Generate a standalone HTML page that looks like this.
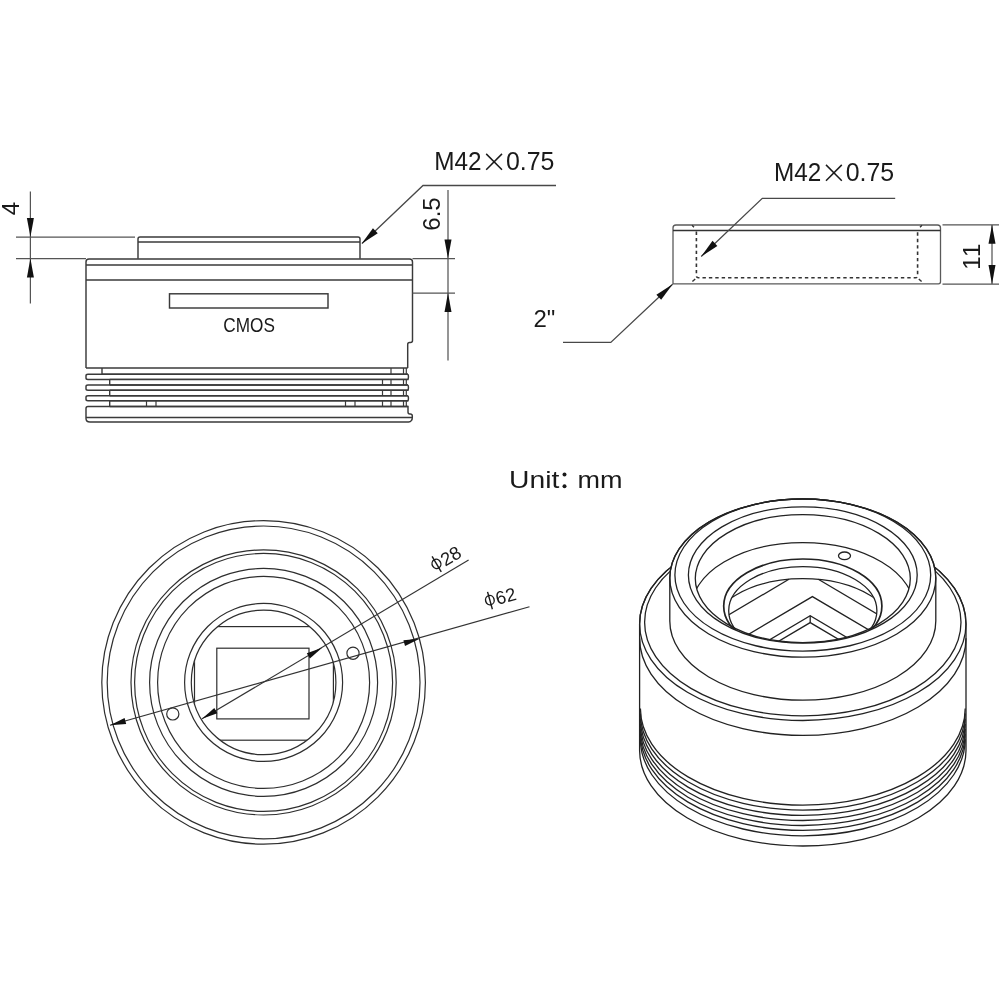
<!DOCTYPE html>
<html><head><meta charset="utf-8"><title>drawing</title>
<style>
html,body{margin:0;padding:0;background:#fff;}
body{width:1000px;height:1000px;overflow:hidden;}
svg{display:block;filter:blur(0.35px);}
text{font-family:"Liberation Sans",sans-serif;fill:#1a1a1a;}
</style></head><body>
<svg width="1000" height="1000" viewBox="0 0 1000 1000">
<rect x="0" y="0" width="1000" height="1000" fill="#ffffff"/>
<path d="M138,258.8 V239 Q138,237 140,237 H358 Q360,237 360,239 V258.8" stroke="#3a3a3a" stroke-width="1.45" fill="none" />
<line x1="138" y1="242" x2="360" y2="242" stroke="#3a3a3a" stroke-width="1.45" />
<path d="M86,368 V262 Q86,259 89,259 H409.5 Q412.5,259 412.5,262 V340.5 Q412.5,342.5 410.5,342.5 H409.5 Q407.7,342.5 407.7,344.5 V368" stroke="#3a3a3a" stroke-width="1.45" fill="none" />
<line x1="86" y1="265" x2="412.5" y2="265" stroke="#3a3a3a" stroke-width="1.45" />
<line x1="86" y1="280" x2="412.5" y2="280" stroke="#3a3a3a" stroke-width="1.45" />
<rect x="169.5" y="293.8" width="158.5" height="14.2" rx="0" stroke="#3a3a3a" stroke-width="1.45" fill="none"/>
<text x="223.3" y="332.2" font-size="19.5" text-anchor="start" textLength="51.6" lengthAdjust="spacingAndGlyphs" >CMOS</text>
<line x1="86" y1="368" x2="407.7" y2="368" stroke="#3a3a3a" stroke-width="1.5" />
<path d="M408,374.3 H88 Q86,374.3 86,375.8 V377.9 Q86,379.4 88,379.4 H408 Q408.9,376.85 408,374.3" stroke="#3a3a3a" stroke-width="1.45" fill="none" />
<path d="M408,385 H88 Q86,385 86,386.5 V388.7 Q86,390.2 88,390.2 H408 Q408.9,387.6 408,385" stroke="#3a3a3a" stroke-width="1.45" fill="none" />
<path d="M408,395.7 H88 Q86,395.7 86,397.2 V399.3 Q86,400.8 88,400.8 H408 Q408.9,398.25 408,395.7" stroke="#3a3a3a" stroke-width="1.45" fill="none" />
<line x1="102" y1="368" x2="102" y2="374.3" stroke="#3a3a3a" stroke-width="1.4" />
<line x1="109.7" y1="379.4" x2="109.7" y2="385" stroke="#3a3a3a" stroke-width="1.4" />
<line x1="109.7" y1="390.2" x2="109.7" y2="395.7" stroke="#3a3a3a" stroke-width="1.4" />
<line x1="109.7" y1="400.8" x2="109.7" y2="406.5" stroke="#3a3a3a" stroke-width="1.4" />
<line x1="109.7" y1="379.4" x2="408" y2="379.4" stroke="#3a3a3a" stroke-width="1.4" />
<line x1="109.7" y1="385" x2="408" y2="385" stroke="#3a3a3a" stroke-width="1.4" />
<line x1="109.7" y1="390.2" x2="408" y2="390.2" stroke="#3a3a3a" stroke-width="1.4" />
<line x1="109.7" y1="395.7" x2="408" y2="395.7" stroke="#3a3a3a" stroke-width="1.4" />
<line x1="109.7" y1="400.8" x2="408" y2="400.8" stroke="#3a3a3a" stroke-width="1.4" />
<line x1="109.7" y1="406.5" x2="408" y2="406.5" stroke="#3a3a3a" stroke-width="1.4" />
<line x1="102" y1="374.3" x2="408" y2="374.3" stroke="#3a3a3a" stroke-width="1.4" />
<line x1="391" y1="368" x2="391" y2="374.3" stroke="#3a3a3a" stroke-width="1.2" />
<line x1="403.5" y1="368" x2="403.5" y2="374.3" stroke="#3a3a3a" stroke-width="1.2" />
<line x1="406.3" y1="368" x2="406.3" y2="374.3" stroke="#3a3a3a" stroke-width="1.2" />
<line x1="382.5" y1="379.4" x2="382.5" y2="385" stroke="#3a3a3a" stroke-width="1.2" />
<line x1="391" y1="379.4" x2="391" y2="385" stroke="#3a3a3a" stroke-width="1.2" />
<line x1="403.5" y1="379.4" x2="403.5" y2="385" stroke="#3a3a3a" stroke-width="1.2" />
<line x1="406.3" y1="379.4" x2="406.3" y2="385" stroke="#3a3a3a" stroke-width="1.2" />
<line x1="382.5" y1="390.2" x2="382.5" y2="395.7" stroke="#3a3a3a" stroke-width="1.2" />
<line x1="391" y1="390.2" x2="391" y2="395.7" stroke="#3a3a3a" stroke-width="1.2" />
<line x1="403.5" y1="390.2" x2="403.5" y2="395.7" stroke="#3a3a3a" stroke-width="1.2" />
<line x1="406.3" y1="390.2" x2="406.3" y2="395.7" stroke="#3a3a3a" stroke-width="1.2" />
<line x1="345.5" y1="400.8" x2="345.5" y2="406.5" stroke="#3a3a3a" stroke-width="1.2" />
<line x1="355" y1="400.8" x2="355" y2="406.5" stroke="#3a3a3a" stroke-width="1.2" />
<line x1="382.5" y1="400.8" x2="382.5" y2="406.5" stroke="#3a3a3a" stroke-width="1.2" />
<line x1="391" y1="400.8" x2="391" y2="406.5" stroke="#3a3a3a" stroke-width="1.2" />
<line x1="403.5" y1="400.8" x2="403.5" y2="406.5" stroke="#3a3a3a" stroke-width="1.2" />
<line x1="406.3" y1="400.8" x2="406.3" y2="406.5" stroke="#3a3a3a" stroke-width="1.2" />
<line x1="146.5" y1="400.8" x2="146.5" y2="406.5" stroke="#3a3a3a" stroke-width="1.2" />
<line x1="156" y1="400.8" x2="156" y2="406.5" stroke="#3a3a3a" stroke-width="1.2" />
<path d="M408,406.5 H88 Q86,406.5 86,408.5 V418.5 Q86,422 90,422 H408.5 Q412.3,421.5 412.3,417.5 V416 Q412.3,414 410.3,414 H409.8 Q408,414 408,412 Z" stroke="#3a3a3a" stroke-width="1.45" fill="none" />
<line x1="86" y1="417.5" x2="412.3" y2="417.5" stroke="#3a3a3a" stroke-width="1.45" />
<line x1="30.4" y1="191.5" x2="30.4" y2="303.5" stroke="#555" stroke-width="1.25" />
<line x1="16" y1="237" x2="135" y2="237" stroke="#555" stroke-width="1.25" />
<line x1="16" y1="258.5" x2="86" y2="258.5" stroke="#555" stroke-width="1.25" />
<polygon points="30.40,237.00 26.90,218.00 33.90,218.00" fill="#111"/>
<polygon points="30.40,258.50 33.90,277.50 26.90,277.50" fill="#111"/>
<text x="19" y="208.5" font-size="24" text-anchor="middle" transform="rotate(-90 19 208.5)" >4</text>
<path d="M362,243.5 L423,185.5 H556" stroke="#484848" stroke-width="1.3" fill="none" />
<polygon points="361.60,243.80 372.95,228.16 377.77,233.23" fill="#111"/>
<text x="434.3" y="170.4" font-size="25" text-anchor="start" textLength="47.3" lengthAdjust="spacingAndGlyphs" >M42</text>
<line x1="486.20000000000005" y1="153.9" x2="502.0" y2="169.70000000000002" stroke="#1a1a1a" stroke-width="1.5" />
<line x1="486.20000000000005" y1="169.70000000000002" x2="502.0" y2="153.9" stroke="#1a1a1a" stroke-width="1.5" />
<text x="505.90000000000003" y="170.4" font-size="25" text-anchor="start" textLength="48.5" lengthAdjust="spacingAndGlyphs" >0.75</text>
<line x1="448" y1="190" x2="448" y2="360.5" stroke="#555" stroke-width="1.25" />
<line x1="412.5" y1="258.6" x2="455" y2="258.6" stroke="#555" stroke-width="1.25" />
<line x1="412.5" y1="293" x2="455" y2="293" stroke="#555" stroke-width="1.25" />
<polygon points="448.00,258.60 444.50,239.60 451.50,239.60" fill="#111"/>
<polygon points="448.00,293.00 451.50,312.00 444.50,312.00" fill="#111"/>
<text x="439.5" y="214" font-size="24" text-anchor="middle" transform="rotate(-90 439.5 214)" >6.5</text>
<path d="M673,283.8 V228 Q673,225 676,225 H937.5 Q940.5,225 940.5,228 V281.8 Q940.5,283.8 938.5,283.8 Z" stroke="#5a5a5a" stroke-width="1.3" fill="none" />
<line x1="673" y1="230.6" x2="940.5" y2="230.6" stroke="#333" stroke-width="1.5" />
<path d="M696.4,231.5 V275.8 Q696.4,277.8 698.4,277.8 H915.6 Q917.6,277.8 917.6,275.8 V231.5" stroke="#333" stroke-width="1.6" fill="none" stroke-dasharray="3.4 3"/>
<path d="M695.2,279 L692.4,281.6 M918.8,279 L921.6,281.6 M692,225.3 L694,227.3 M922,225.3 L920,227.3" stroke="#333" stroke-width="1.4" fill="none" />
<path d="M701.2,256.5 L762.3,198.4 H895.2" stroke="#484848" stroke-width="1.3" fill="none" />
<polygon points="701.20,256.50 712.55,240.86 717.37,245.93" fill="#111"/>
<text x="774.1" y="181.4" font-size="25" text-anchor="start" textLength="47.3" lengthAdjust="spacingAndGlyphs" >M42</text>
<line x1="826.0" y1="164.9" x2="841.8" y2="180.70000000000002" stroke="#1a1a1a" stroke-width="1.5" />
<line x1="826.0" y1="180.70000000000002" x2="841.8" y2="164.9" stroke="#1a1a1a" stroke-width="1.5" />
<text x="845.6999999999999" y="181.4" font-size="25" text-anchor="start" textLength="48.5" lengthAdjust="spacingAndGlyphs" >0.75</text>
<path d="M672.6,284.2 L610.8,342.4 H563" stroke="#484848" stroke-width="1.3" fill="none" />
<polygon points="672.60,284.20 661.17,299.78 656.37,294.68" fill="#111"/>
<text x="533.5" y="327" font-size="24" text-anchor="start" >2"</text>
<line x1="942.5" y1="224.8" x2="999" y2="224.8" stroke="#555" stroke-width="1.25" />
<line x1="942.5" y1="284" x2="999" y2="284" stroke="#555" stroke-width="1.25" />
<line x1="992" y1="225" x2="992" y2="284" stroke="#555" stroke-width="1.25" />
<polygon points="992.00,224.80 995.50,243.80 988.50,243.80" fill="#111"/>
<polygon points="992.00,284.00 988.50,265.00 995.50,265.00" fill="#111"/>
<text x="980" y="256.2" font-size="24" text-anchor="middle" transform="rotate(-90 980 256.2)" letter-spacing="1">11</text>
<text x="509.0" y="488.2" font-size="24.5" text-anchor="start" textLength="50.3" lengthAdjust="spacingAndGlyphs" >Unit</text>
<circle cx="564.5" cy="474.6" r="2" fill="#1a1a1a"/><circle cx="564.5" cy="486.3" r="2" fill="#1a1a1a"/>
<text x="577.6" y="488.2" font-size="24.5" text-anchor="start" textLength="45" lengthAdjust="spacingAndGlyphs" >mm</text>
<circle cx="263.6" cy="682.4" r="161.8" stroke="#2e2e2e" stroke-width="1.2" fill="none"/>
<circle cx="263.6" cy="682.4" r="156.4" stroke="#2e2e2e" stroke-width="1.2" fill="none"/>
<circle cx="263.6" cy="682.4" r="132.6" stroke="#2e2e2e" stroke-width="1.2" fill="none"/>
<circle cx="263.6" cy="682.4" r="129" stroke="#2e2e2e" stroke-width="1.2" fill="none"/>
<circle cx="263.6" cy="682.4" r="114" stroke="#2e2e2e" stroke-width="1.2" fill="none"/>
<circle cx="263.6" cy="682.4" r="106" stroke="#2e2e2e" stroke-width="1.2" fill="none"/>
<circle cx="263.6" cy="682.4" r="79" stroke="#2e2e2e" stroke-width="1.2" fill="none"/>
<circle cx="263.6" cy="682.4" r="72.3" stroke="#2e2e2e" stroke-width="1.2" fill="none"/>
<clipPath id="cin"><circle cx="263.6" cy="682.4" r="72.3"/></clipPath>
<g clip-path="url(#cin)"><rect x="194.5" y="626.6" width="138.9" height="113.6" stroke="#2e2e2e" stroke-width="1.2" fill="none"/></g>
<rect x="216.8" y="648.2" width="92.2" height="70.7" rx="0" stroke="#2e2e2e" stroke-width="1.2" fill="none"/>
<circle cx="172.8" cy="713.9" r="6.1" stroke="#2e2e2e" stroke-width="1.2" fill="#fff"/>
<circle cx="353" cy="653.2" r="6.1" stroke="#2e2e2e" stroke-width="1.2" fill="#fff"/>
<line x1="109.97557059577355" y1="725.2927113881349" x2="529.5" y2="606.7" stroke="#333" stroke-width="1.15" />
<polygon points="109.98,725.29 124.58,718.10 126.19,723.88" fill="#111"/>
<polygon points="419.63,638.83 405.03,646.03 403.41,640.25" fill="#111"/>
<line x1="202.05694506921805" y1="718.7964612261516" x2="468.6" y2="560.1" stroke="#333" stroke-width="1.15" />
<polygon points="202.06,718.80 214.30,708.07 217.36,713.23" fill="#111"/>
<polygon points="322.13,647.79 309.89,658.51 306.83,653.35" fill="#111"/>
<g transform="translate(446.3 558.3) rotate(-30.6)">
<ellipse cx="-11.3" cy="-0.2" rx="4.3" ry="4.7" stroke="#1a1a1a" stroke-width="1.4" fill="none"/>
<line x1="-11.3" y1="-8.8" x2="-11.3" y2="9.2" stroke="#1a1a1a" stroke-width="1.4"/>
<text x="-5.2" y="6.6" font-size="18.5">28</text>
</g>
<g transform="translate(500.8 597.3) rotate(-15.6)">
<ellipse cx="-11.3" cy="-0.2" rx="4.3" ry="4.7" stroke="#1a1a1a" stroke-width="1.4" fill="none"/>
<line x1="-11.3" y1="-8.8" x2="-11.3" y2="9.2" stroke="#1a1a1a" stroke-width="1.4"/>
<text x="-5.2" y="6.6" font-size="18.5">62</text>
</g>
<path d="M639.5999999999999,624 A163.2,96.5 0 0 1 966.0,624 V750.5 A163.2,95.5 0 0 1 639.5999999999999,750.5 Z" stroke="#222" stroke-width="1.3" fill="#fff" />
<path d="M640.4,708.6 A162.39999999999998,96.62799999999999 0 0 0 965.1999999999999,708.6" stroke="#222" stroke-width="1.3" fill="none" />
<path d="M640.4,713.5 A162.39999999999998,96.62799999999999 0 0 0 965.1999999999999,713.5" stroke="#222" stroke-width="1.3" fill="none" />
<path d="M640.4,718.8 A162.39999999999998,96.62799999999999 0 0 0 965.1999999999999,718.8" stroke="#222" stroke-width="1.3" fill="none" />
<path d="M640.4,723.9 A162.39999999999998,96.62799999999999 0 0 0 965.1999999999999,723.9" stroke="#222" stroke-width="1.3" fill="none" />
<path d="M640.4,728.9 A162.39999999999998,96.62799999999999 0 0 0 965.1999999999999,728.9" stroke="#222" stroke-width="1.3" fill="none" />
<path d="M640.4,733.8 A162.39999999999998,96.62799999999999 0 0 0 965.1999999999999,733.8" stroke="#222" stroke-width="1.3" fill="none" />
<path d="M640.4,739.2 A162.39999999999998,96.62799999999999 0 0 0 965.1999999999999,739.2" stroke="#222" stroke-width="1.3" fill="none" />
<path d="M639.5999999999999,638.3 A163.2,97.10399999999998 0 0 0 966.0,638.3" stroke="#222" stroke-width="1.3" fill="none" />
<ellipse cx="802.8" cy="624" rx="163.2" ry="96.5" stroke="#222" stroke-width="1.3" fill="none" />
<ellipse cx="802.8" cy="622.2" rx="158.2" ry="93.6" stroke="#222" stroke-width="1.3" fill="none" />
<path d="M669.8,578.1 A133,79.1 0 0 1 935.8,578.1 V621.1 A133,79.1 0 0 1 669.8,621.1 Z" stroke="#222" stroke-width="1.3" fill="#fff" />
<ellipse cx="802.8" cy="578.1" rx="133" ry="79.1" stroke="#222" stroke-width="1.3" fill="none" />
<ellipse cx="802.8" cy="575" rx="127.9" ry="76.1" stroke="#222" stroke-width="1.3" fill="none" />
<ellipse cx="802.8" cy="575" rx="114.4" ry="68.1" stroke="#222" stroke-width="1.3" fill="none" />
<ellipse cx="802.8" cy="578.6" rx="107.5" ry="64" stroke="#222" stroke-width="1.3" fill="none" />
<clipPath id="cd"><ellipse cx="802.8" cy="578.6" rx="107.5" ry="64"/></clipPath>
<clipPath id="cc"><ellipse cx="802.8" cy="575" rx="114.4" ry="68.1"/></clipPath>
<g clip-path="url(#cd)">
<ellipse cx="802.8" cy="608.9" rx="111.5" ry="66.3" stroke="#222" stroke-width="1.3" fill="none" />
</g>
<g clip-path="url(#cc)">
<ellipse cx="802.8" cy="606.1" rx="79.1" ry="47.1" stroke="#222" stroke-width="1.7" fill="none" />
<ellipse cx="802.8" cy="610.7" rx="74.1" ry="44.1" stroke="#222" stroke-width="1.3" fill="none" />
<clipPath id="ca"><ellipse cx="802.8" cy="610.7" rx="74.1" ry="44.1"/></clipPath>
<g clip-path="url(#ca)">
<ellipse cx="802.8" cy="635.2" rx="95" ry="56.5" stroke="#222" stroke-width="1.3" fill="none" />
<line x1="788.9" y1="579.3" x2="718.9" y2="620.6978845979629" stroke="#222" stroke-width="1.3" />
<line x1="818.3" y1="579.3" x2="888.3" y2="620.6978845979629" stroke="#222" stroke-width="1.3" />
<path d="M732.4,643.9118681119577 L812.4,596.6 L892.4,643.9118681119577" stroke="#222" stroke-width="1.3" fill="none" />
<path d="M750.2,651.2839010839682 L810.2,615.8 L870.2,651.2839010839682" stroke="#222" stroke-width="1.3" fill="none" />
<path d="M760.2,652.1699175699736 L810.2,622.6 L860.2,652.1699175699736" stroke="#222" stroke-width="1.3" fill="none" />
<line x1="810.2" y1="615.8" x2="810.2" y2="622.6" stroke="#222" stroke-width="1.3" />
</g></g>
<ellipse cx="844.5" cy="555.8" rx="6" ry="3.8" stroke="#222" stroke-width="1.3" fill="none" />
</svg>
</body></html>
